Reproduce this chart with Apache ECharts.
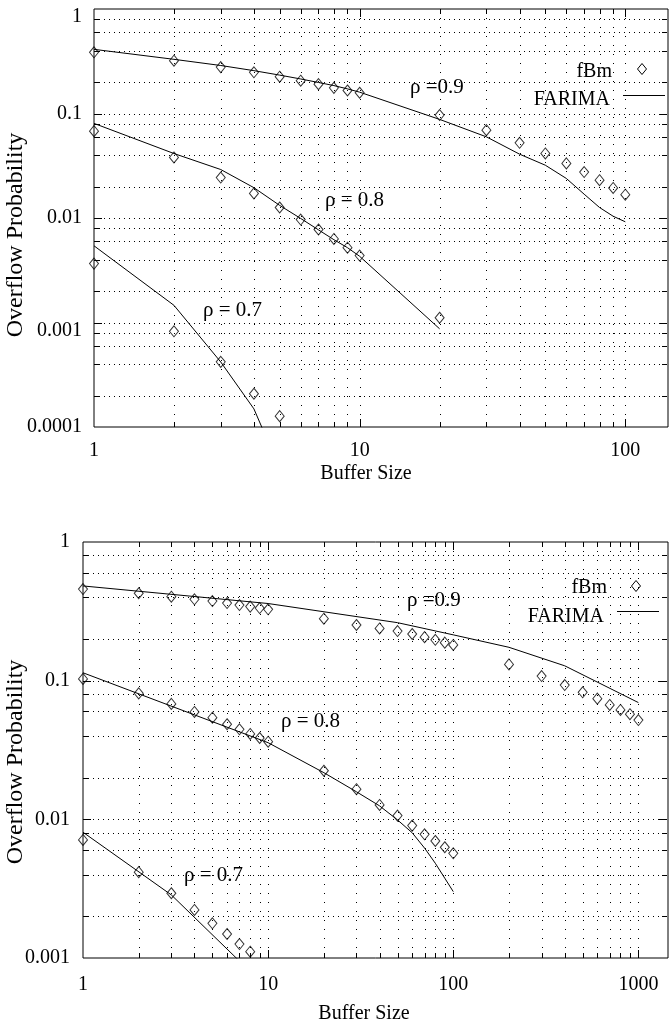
<!DOCTYPE html>
<html>
<head>
<meta charset="utf-8">
<script src="https://cdn.jsdelivr.net/npm/echarts@6/dist/echarts.min.js"></script>
<style>
html,body{margin:0;padding:0;background:#fff;}
#c{width:671px;height:1028px;}
</style>
</head>
<body>
<div id="c"></div>
<script>
// ---------- data: top chart ----------
const xTop = [1,2,3,4,5,6,7,8,9,10,20,30,40,50,60,70,80,90,100];
const fbmTop09 = [0.385,0.32,0.278,0.248,0.225,0.206,0.191,0.176,0.166,0.158,0.0966,0.0693,0.0524,0.0415,0.0333,0.0275,0.023,0.0194,0.0167];
const farimaTop09 = [0.411,0.33,0.288,0.257,0.233,0.214,0.198,0.185,0.172,0.16,0.0878,0.0598,0.0408,0.032,0.0239,0.0169,0.0126,0.0104,0.0092];
const xTop08 = [1,2,3,4,5,6,7,8,9,10,20];
const fbmTop08 = [0.0678,0.038,0.0244,0.0172,0.0126,0.00966,0.00776,0.0063,0.0052,0.00437,0.00111];
const farimaTop08 = [0.0804,0.0414,0.0291,0.0195,0.0132,0.0099,0.0077,0.0062,0.0052,0.0043,0.00087];
const xTop07 = [1,2,3,4,5];
const fbmTop07 = [0.00366,0.000824,0.00042,0.000208,0.000127];
const farimaTop07 = [0.00542,0.00146,0.000419,0.000149,0.00004];

// ---------- data: bottom chart ----------
const xBot09fbm = [1,2,3,4,5,6,7,8,9,10,20,30,40,50,60,70,80,90,100,200,300,400,500,600,700,800,900,1000];
const fbmBot09 = [0.458,0.427,0.403,0.386,0.375,0.363,0.351,0.342,0.334,0.327,0.28,0.252,0.238,0.228,0.217,0.206,0.197,0.188,0.181,0.131,0.108,0.093,0.0824,0.0742,0.0668,0.0615,0.0573,0.052];
const xBot09far = [1,10,50,100,200,400,1000];
const farimaBot09 = [0.482,0.36,0.262,0.214,0.174,0.128,0.0695];
const xBot08fbm = [1,2,3,4,5,6,7,8,9,10,20,30,40,50,60,70,80,90,100];
const fbmBot08 = [0.103,0.081,0.068,0.0595,0.0541,0.0485,0.0446,0.0413,0.0386,0.0363,0.0224,0.0165,0.0127,0.01064,0.00901,0.0078,0.00698,0.00629,0.00569];
const xBot08far = [1,10,20,30,40,50,60,70,80,90,100];
const farimaBot08 = [0.114,0.0357,0.0217,0.0158,0.0125,0.0099,0.008,0.0062,0.00482,0.00376,0.00301];
const xBot07fbm = [1,2,3,4,5,6,7,8];
const fbmBot07 = [0.0071,0.00416,0.00293,0.00222,0.00178,0.00149,0.00126,0.00111];
const xBot07far = [1,3,7];
const farimaBot07 = [0.00807,0.00285,0.00095];

// ---------- grid / tick values ----------
const xGridTop = [2,3,4,5,6,7,8,9,10,20,30,40,50,60,70,80,90,100];
const yGridTop = [0.8,0.6,0.4,0.2,0.1,0.08,0.06,0.04,0.02,0.01,0.008,0.006,0.004,0.002,0.001,0.0008,0.0006,0.0004,0.0002];
const xGridBot = [2,3,4,5,6,7,8,9,10,20,30,40,50,60,70,80,90,100,200,300,400,500,600,700,800,900,1000];
const yGridBot = [0.8,0.6,0.4,0.2,0.1,0.08,0.06,0.04,0.02,0.01,0.008,0.006,0.004,0.002];
const shiftedTopLabels = ['1', '0.001'];

const FONT = 'Liberation Serif';
const zip = (xs, ys) => xs.map((x, i) => [x, ys[i]]);
const isPow10 = v => Math.abs(Math.log10(v) - Math.round(Math.log10(v))) < 1e-6;
const isMajor = v => isPow10(v) ? 1 : 0;
const fmt = v => {
  if (!isPow10(v)) return '';
  const e = Math.round(Math.log10(v));
  return e >= 0 ? String(Math.pow(10, e)) : Math.pow(10, e).toFixed(-e);
};
const fmtTopY = v => {
  const s = fmt(v);
  return shiftedTopLabels.indexOf(s) >= 0 ? '{d|' + s + '}' : s;
};

function vRender(params, api) {
  const cs = params.coordSys;
  const x = Math.round(api.coord([api.value(0), api.value(1)])[0]) + 0.5;
  const tl = api.value(2) ? 8 : 5;
  const b = cs.y + cs.height;
  return {type: 'group', children: [
    {type: 'line', shape: {x1: x, y1: cs.y, x2: x, y2: b}, style: {stroke: '#000', lineWidth: 1, lineDash: [1, 8]}},
    {type: 'line', shape: {x1: x, y1: b - tl, x2: x, y2: b}, style: {stroke: '#000', lineWidth: 1}},
    {type: 'line', shape: {x1: x, y1: cs.y, x2: x, y2: cs.y + tl}, style: {stroke: '#000', lineWidth: 1}}
  ]};
}
function hRender(params, api) {
  const cs = params.coordSys;
  const y = Math.round(api.coord([api.value(0), api.value(1)])[1]) + 0.5;
  const tl = api.value(2) ? 8 : 5;
  const r = cs.x + cs.width - 1;
  return {type: 'group', children: [
    {type: 'line', shape: {x1: cs.x, y1: y, x2: r, y2: y}, style: {stroke: '#000', lineWidth: 1, lineDash: [1, 4]}},
    {type: 'line', shape: {x1: cs.x, y1: y, x2: cs.x + tl, y2: y}, style: {stroke: '#000', lineWidth: 1}},
    {type: 'line', shape: {x1: r - tl, y1: y, x2: r, y2: y}, style: {stroke: '#000', lineWidth: 1}}
  ]};
}

const lineSeries = (idx, data) => ({
  type: 'line', xAxisIndex: idx, yAxisIndex: idx, data, symbol: 'none',
  lineStyle: {color: '#000', width: 1}, z: 3, silent: true, clip: true
});
const fbmSeries = (idx, data) => ({
  type: 'scatter', xAxisIndex: idx, yAxisIndex: idx, data, symbol: 'diamond', symbolSize: [9, 11],
  itemStyle: {color: 'rgba(0,0,0,0)', borderColor: '#000', borderWidth: 1}, z: 4, silent: true
});
const gridSeries = (idx, xs, ys, yAny, xAny) => [
  {type: 'custom', xAxisIndex: idx, yAxisIndex: idx, renderItem: vRender, silent: true, z: 1, clip: false,
   data: xs.map(v => [v, yAny, isMajor(v)]), encode: {x: 0, y: 1}},
  {type: 'custom', xAxisIndex: idx, yAxisIndex: idx, renderItem: hRender, silent: true, z: 1, clip: false,
   data: ys.map(v => [xAny, v, isMajor(v)]), encode: {x: 0, y: 1}}
];

const axisLbl = (margin, formatter) => ({fontFamily: FONT, fontSize: 20, color: '#000', margin, formatter: formatter || fmt,
  rich: {d: {fontFamily: FONT, fontSize: 20, color: '#000', padding: [16, 0, 0, 0]}}});

const txt = (x, y, text, align, size, rot) => ({
  type: 'text', x, y, rotation: rot || 0, silent: true,
  style: {text, fill: '#000', font: (size || 20) + 'px "' + FONT + '"', textAlign: align || 'left', textVerticalAlign: 'middle'}
});
const hline = (x1, x2, y) => ({type: 'line', shape: {x1, y1: y + 0.5, x2, y2: y + 0.5}, style: {stroke: '#000', lineWidth: 1}, silent: true});
const diamond = (cx, cy) => ({type: 'polygon', shape: {points: [[cx, cy - 5.5], [cx + 4.5, cy], [cx, cy + 5.5], [cx - 4.5, cy]]},
  style: {fill: 'none', stroke: '#000', lineWidth: 1}, silent: true});

const chart = echarts.init(document.getElementById('c'), null, {renderer: 'canvas'});
chart.setOption({
  animation: false,
  backgroundColor: '#fff',
  grid: [
    {left: 94, top: 9, width: 578, height: 418, show: true, borderColor: '#000', borderWidth: 1, backgroundColor: 'transparent'},
    {left: 83, top: 542, width: 589, height: 416, show: true, borderColor: '#000', borderWidth: 1, backgroundColor: 'transparent'}
  ],
  xAxis: [
    {gridIndex: 0, type: 'log', logBase: 10, min: 1, max: 144.8, axisLine: {show: false}, axisTick: {show: false},
     splitLine: {show: false}, axisLabel: axisLbl(14)},
    {gridIndex: 1, type: 'log', logBase: 10, min: 1, max: 1445, axisLine: {show: false}, axisTick: {show: false},
     splitLine: {show: false}, axisLabel: axisLbl(17)}
  ],
  yAxis: [
    {gridIndex: 0, type: 'log', logBase: 10, min: 0.0001, max: 1, axisLine: {show: false}, axisTick: {show: false},
     splitLine: {show: false}, axisLabel: axisLbl(12, fmtTopY)},
    {gridIndex: 1, type: 'log', logBase: 10, min: 0.001, max: 1, axisLine: {show: false}, axisTick: {show: false},
     splitLine: {show: false}, axisLabel: axisLbl(13)}
  ],
  series: [
    ...gridSeries(0, xGridTop, yGridTop, 0.5, 1),
    ...gridSeries(1, xGridBot, yGridBot, 0.5, 1),
    lineSeries(0, zip(xTop, farimaTop09)),
    lineSeries(0, zip(xTop08, farimaTop08)),
    lineSeries(0, zip(xTop07, farimaTop07)),
    fbmSeries(0, zip(xTop, fbmTop09)),
    fbmSeries(0, zip(xTop08, fbmTop08)),
    fbmSeries(0, zip(xTop07, fbmTop07)),
    lineSeries(1, zip(xBot09far, farimaBot09)),
    lineSeries(1, zip(xBot08far, farimaBot08)),
    lineSeries(1, zip(xBot07far, farimaBot07)),
    fbmSeries(1, zip(xBot09fbm, fbmBot09)),
    fbmSeries(1, zip(xBot08fbm, fbmBot08)),
    fbmSeries(1, zip(xBot07fbm, fbmBot07))
  ],
  graphic: [
    // axis titles
    txt(16, 235, 'Overflow Probability', 'center', 24, Math.PI / 2),
    txt(16, 762, 'Overflow Probability', 'center', 24, Math.PI / 2),
    txt(366, 474, 'Buffer Size', 'center', 20),
    txt(364, 1014, 'Buffer Size', 'center', 20),
    // curve labels
    txt(410, 87, 'ρ =0.9', 'left', 21),
    txt(325, 200, 'ρ = 0.8', 'left', 21),
    txt(203, 310, 'ρ = 0.7', 'left', 21),
    txt(407, 600, 'ρ =0.9', 'left', 21),
    txt(281, 721, 'ρ = 0.8', 'left', 21),
    txt(184, 875, 'ρ = 0.7', 'left', 21),
    // legends
    txt(612, 72, 'fBm', 'right', 20),
    diamond(642, 69),
    txt(610, 100, 'FARIMA', 'right', 20),
    hline(623, 665, 95),
    txt(607, 588, 'fBm', 'right', 20),
    diamond(636, 586),
    txt(604, 617, 'FARIMA', 'right', 20),
    hline(617, 659, 611)
  ]
});
</script>
</body>
</html>
